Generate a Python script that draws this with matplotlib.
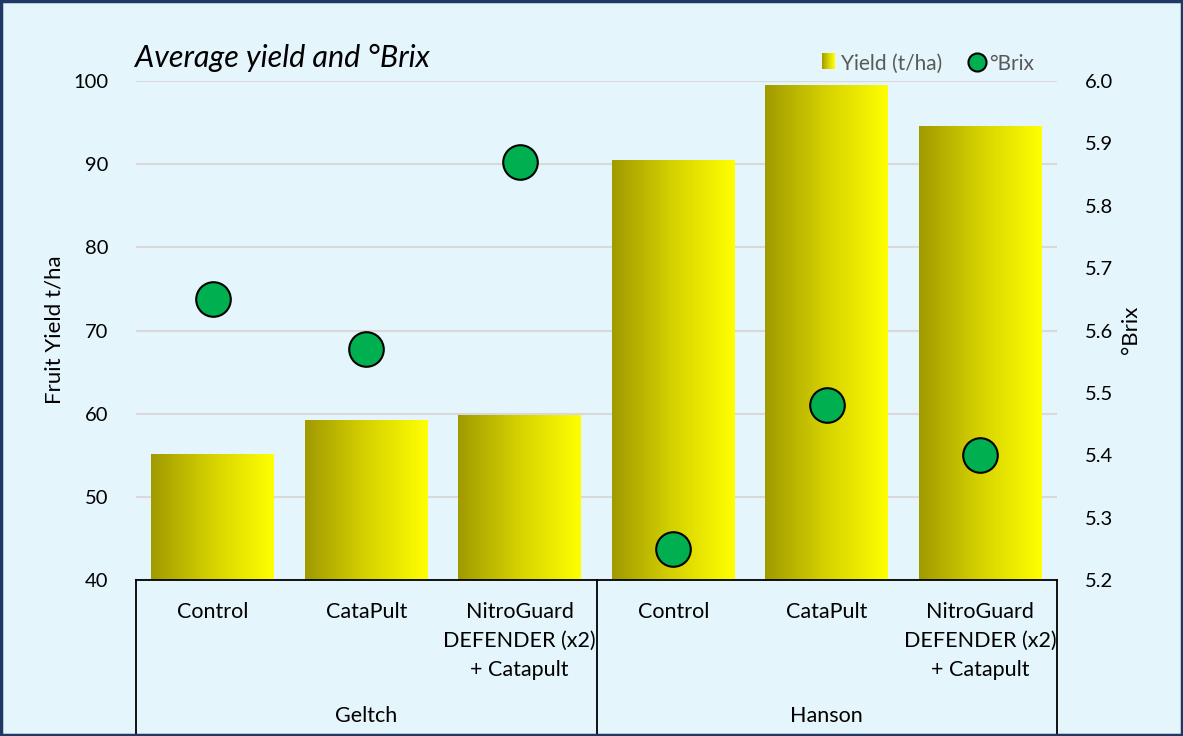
import numpy as np
import matplotlib
matplotlib.use('Agg')
import matplotlib.pyplot as plt
from matplotlib.colors import LinearSegmentedColormap
from matplotlib.patches import Rectangle
from matplotlib.lines import Line2D
from matplotlib.legend_handler import HandlerBase
import matplotlib.transforms as mtransforms

plt.rcParams['font.family'] = ['Lato', 'DejaVu Sans']

# ---------- data ----------
treatments = ['Control', 'CataPult', 'NitroGuard\nDEFENDER (x2)\n+ Catapult',
              'Control', 'CataPult', 'NitroGuard\nDEFENDER (x2)\n+ Catapult']
groups = ['Geltch', 'Hanson']
yield_tha = [55.1, 59.2, 59.8, 90.5, 99.5, 94.6]
brix = [5.65, 5.57, 5.87, 5.25, 5.48, 5.40]

BG = '#E5F5FC'
grad = LinearSegmentedColormap.from_list('grad', ['#A09A00', '#D6D200', '#FFFF00'])
x = np.arange(len(treatments))

fig = plt.figure(figsize=(11.83, 7.36), dpi=100, facecolor=BG)
ax = fig.add_axes([136/1183, 1 - 580/736, (1057-136)/1183, (580-81)/736])
ax.set_facecolor(BG)
ax.set_yticks(range(40, 101, 10))
ax.yaxis.grid(True, color='#D9D9D9', lw=1.5)
ax.set_axisbelow(True)

# bars with a left-to-right olive -> yellow gradient
bars = ax.bar(x, [v - 40 for v in yield_tha], bottom=40, width=0.8, color='none', zorder=2)
gimg = np.linspace(0, 1, 256).reshape(1, -1)
for b in bars:
    x0, y0, w, h = b.get_x(), b.get_y(), b.get_width(), b.get_height()
    im = ax.imshow(gimg, cmap=grad, aspect='auto', extent=[x0, x0 + w, y0, y0 + h],
                   zorder=2, interpolation='bilinear')
    im.set_clip_path(b)
ax.set_xlim(-0.5, 5.5)
ax.set_ylim(40, 100)

for s in ['top', 'left', 'right']:
    ax.spines[s].set_visible(False)
ax.spines['bottom'].set_color('black')
ax.spines['bottom'].set_linewidth(1.3)
ax.tick_params(axis='y', length=0, labelsize=14.5, pad=20)
ax.set_xticks(x)
ax.set_xticklabels(treatments, fontsize=15.5, linespacing=1.55, va='top')
ax.tick_params(axis='x', length=0, pad=16)

# group separators and group labels
trans = mtransforms.blended_transform_factory(ax.transData, ax.transAxes)
bottom_frac = -(736 - 580) / (580 - 81)
for xs in [-0.5, 2.5, 5.5]:
    ax.plot([xs, xs], [0, bottom_frac], transform=trans, color='black', lw=1.3, clip_on=False)
for i, g in enumerate(groups):
    ax.text(1 + 3 * i, -(716 - 580) / (580 - 81), g, transform=trans, ha='center', va='center',
            fontsize=15.5)

ax2 = ax.twinx()
ax2.set_ylim(5.2, 6.0)
ax2.set_yticks(np.arange(5.2, 6.01, 0.1))
ax2.set_yticklabels([f'{v:.1f}' for v in np.arange(5.2, 6.01, 0.1)])
ax2.tick_params(axis='y', length=0, labelsize=14.5, pad=20)
for s in ['top', 'left', 'right', 'bottom']:
    ax2.spines[s].set_visible(False)
ax2.scatter(x, brix, s=620, color='#00B050', edgecolors='black', linewidths=1.5, zorder=3)

fig.text(55/1183, 1 - 330/736, 'Fruit Yield t/ha', rotation=90, ha='center', va='center', fontsize=16)
fig.text(1131/1183, 1 - 330/736, '°Brix', rotation=90, ha='center', va='center', fontsize=16)
fig.text(135/1183, 1 - 58/736, 'Average yield and °Brix', style='italic', ha='left', va='center',
         fontsize=22)


class GradHandler(HandlerBase):
    def create_artists(self, legend, orig, xd, yd, w, h, fs, trans):
        n = 20
        arts = []
        for i in range(n):
            arts.append(Rectangle((xd + w * i / n, yd), w / n * 1.1, h, facecolor=grad(i / (n - 1)),
                                  edgecolor='none', transform=trans))
        return arts


hy = Rectangle((0, 0), 1, 1)
hb = Line2D([], [], marker='o', ls='none', markersize=13, markerfacecolor='#00B050',
            markeredgecolor='black', markeredgewidth=1.5)
leg = fig.legend([hy, hb], ['Yield (t/ha)', '°Brix'], handler_map={Rectangle: GradHandler()},
                 loc='center', bbox_to_anchor=(928/1183, 1 - 64/736), ncol=2, frameon=False,
                 fontsize=15, handlelength=0.65, handleheight=0.8, handletextpad=0.3,
                 columnspacing=1.3, labelcolor='#595959')

fig.add_artist(Rectangle((0.001, 0.001), 0.998, 0.997, transform=fig.transFigure, fill=False,
                         edgecolor='#1F3864', lw=2.5))

plt.savefig('out.png', dpi=100, facecolor=BG)
